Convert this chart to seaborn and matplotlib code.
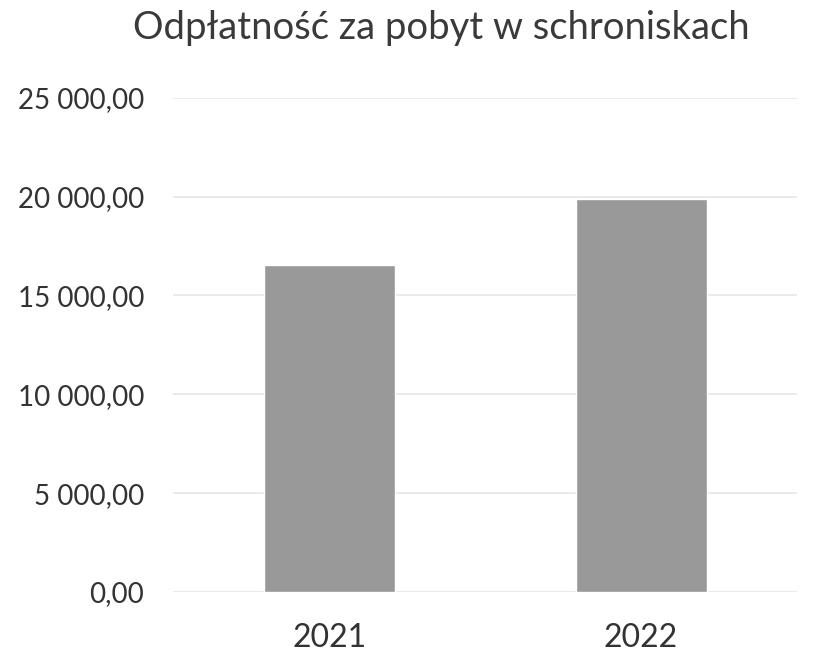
import matplotlib
matplotlib.use("Agg")
import matplotlib.pyplot as plt
import seaborn as sns
import pandas as pd
from matplotlib.ticker import FuncFormatter

years = ["2021", "2022"]
values = [16550, 19900]
title = "Odpłatność za pobyt w schroniskach"

sns.set_theme(style="white")
plt.rcParams['font.family'] = ['Lato', 'DejaVu Sans']

df = pd.DataFrame({"rok": years, "kwota": values})

fig = plt.figure(figsize=(8.25, 6.6), dpi=100)
ax = fig.add_axes([0.21, 0.103, 0.756, 0.749])
sns.barplot(data=df, x="rok", y="kwota", color="#999999", width=0.42,
            saturation=1, ax=ax, zorder=3)
ax.set_ylim(0, 25000)
ax.set_yticks([0, 5000, 10000, 15000, 20000, 25000])

def fmt(v, pos):
    s = f"{v:,.2f}".replace(",", " ").replace(".", ",")
    return s
ax.yaxis.set_major_formatter(FuncFormatter(fmt))
ax.grid(axis="y", color="#e6e6e6", linewidth=1.2, zorder=0)
for s in ax.spines.values():
    s.set_visible(False)
ax.set_xlabel("")
ax.set_ylabel("")
ax.tick_params(axis="y", labelsize=20, colors="#333333", pad=21, length=0)
ax.tick_params(axis="x", labelsize=23, colors="#333333", pad=22, length=0)
fig.suptitle(title, x=0.535, y=0.985, fontsize=27.5, color="#3a3a3a")
fig.savefig("out.png", dpi=100, facecolor="white")
